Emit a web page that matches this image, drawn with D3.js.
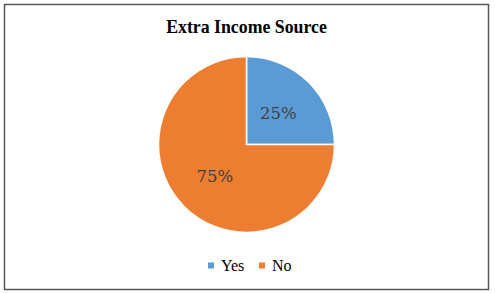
<!DOCTYPE html>
<html>
<head>
<meta charset="utf-8">
<script src="https://cdn.jsdelivr.net/npm/d3@7"></script>
<style>
  body { margin: 0; background: #fff; }
  svg { display: block; }
</style>
</head>
<body>
<svg id="chart" width="495" height="293"></svg>
<script>
// data
const categories = ["Yes", "No"]
const values = [25, 75]
const colors = ["#5B9BD5", "#ED7D31"]

const width = 495, height = 293
const svg = d3.select("#chart")

// outer frame
svg.append("rect")
    .attr("x", 4.5).attr("y", 4.5)
    .attr("width", 484).attr("height", 285)
    .attr("fill", "#fff")
    .attr("stroke", "#595959")
    .attr("stroke-width", 1.5)

svg.append("text")
    .attr("x", 246.5).attr("y", 33)
    .attr("text-anchor", "middle")
    .attr("font-family", "Liberation Serif, Times New Roman, serif")
    .attr("font-weight", "bold")
    .attr("font-size", 17.8)
    .attr("fill", "#000")
    .text("Extra Income Source")

const cx = 246.5, cy = 144.5, r = 88

const pie = d3.pie().sort(null).value(d => d)
const arc = d3.arc().innerRadius(0).outerRadius(r)
const labelArc = d3.arc().innerRadius(r * 0.51).outerRadius(r * 0.51)

const arcs = pie(values)
const g = svg.append("g").attr("transform", `translate(${cx},${cy})`)

g.selectAll("path")
  .data(arcs)
  .join("path")
    .attr("d", arc)
    .attr("fill", (d, i) => colors[i])
    .attr("stroke", "#fff")
    .attr("stroke-width", 1.5)

g.selectAll("text")
  .data(arcs)
  .join("text")
    .attr("transform", d => `translate(${labelArc.centroid(d)})`)
    .attr("text-anchor", "middle")
    .attr("dy", "0.35em")
    .attr("font-family", "DejaVu Serif, serif")
    .attr("font-size", 16.5)
    .attr("fill", "#404040")
    .text(d => d.data + "%")

// legend
const legend = svg.append("g")
const legendX = [208, 259]
categories.forEach((c, i) => {
  legend.append("rect")
      .attr("x", legendX[i]).attr("y", 262.5)
      .attr("width", 6).attr("height", 6)
      .attr("fill", colors[i])
  legend.append("text")
      .attr("x", legendX[i] + 13).attr("y", 270.5)
      .attr("font-family", "Liberation Serif, Times New Roman, serif")
      .attr("font-size", 16)
      .attr("fill", "#000")
      .text(c)
})
</script>
</body>
</html>
